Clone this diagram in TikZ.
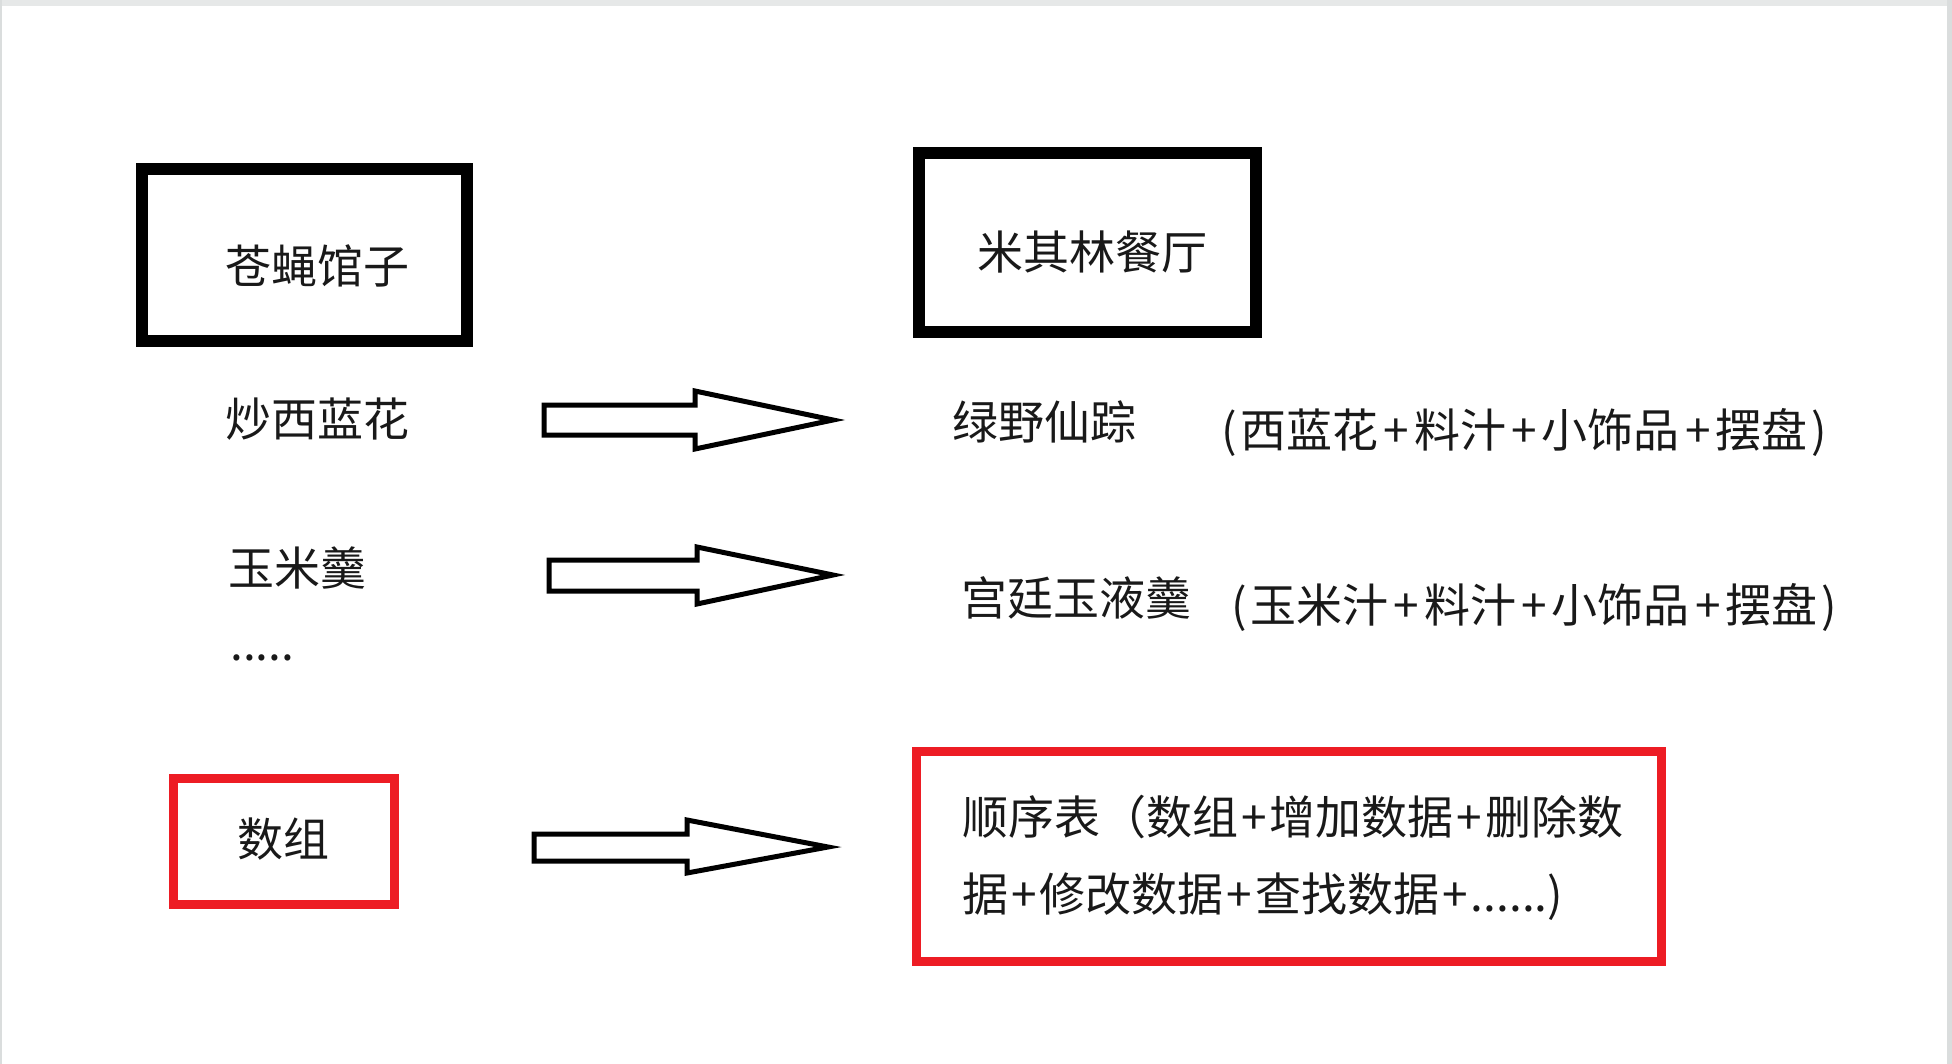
\documentclass[tikz,border=0pt]{standalone}
\usepackage{fontspec}
\newfontfamily\cjk{Noto Sans CJK SC}
\definecolor{pred}{HTML}{ED1C24}
\definecolor{edgegray}{HTML}{DADDDD}
\definecolor{topgray}{HTML}{E6E8E8}
\newcommand{\pl}{\hspace{1.5pt}+\hspace{1.5pt}}
\newcommand{\plw}{\hspace{2.5pt}+\hspace{2.5pt}}
\begin{document}
\begin{tikzpicture}[x=0.5pt,y=-0.5pt,
  txt/.style={font=\cjk\fontsize{23}{28}\selectfont, inner sep=0pt, text=black!90, text height=0.8em, text depth=0.12em},
  blackbox/.style={draw=black, line width=6pt, inner sep=0pt},
  redbox/.style={draw=pred, line width=4.5pt, inner sep=0pt},
  blockarrow/.style={draw=black, line width=2.5pt, fill=white, line join=miter}]
\useasboundingbox (0,0) rectangle (1952,1064);
\fill[white] (0,0) rectangle (1952,1064);
\fill[topgray] (0,0) rectangle (1952,6);
\fill[edgegray] (1947,0) rectangle (1952,1064);
\fill[edgegray] (0,0) rectangle (2,1064);

% boxes
\node[blackbox, minimum width=162.5pt, minimum height=86pt] (b1) at (304.5,255) {};
\node[blackbox, minimum width=168.5pt, minimum height=89.5pt] (b2) at (1087.5,242.5) {};
\node[redbox, minimum width=110.5pt, minimum height=63pt] (r1) at (283.5,841) {};
\node[redbox, minimum width=372.5pt, minimum height=105pt] (r2) at (1289,856.5) {};

% texts
\node[txt] (t1) at (317,277) {苍蝇馆子};
\node[txt] (t2) at (1092,263) {米其林餐厅};
\node[txt] (l1) at (317,430) {炒西蓝花};
\node[txt] (l2) at (297,579) {玉米羹};
\node[txt, anchor=base west] (l3) at (230,660) {.....};
\node[txt] (l4) at (283,850) {数组};
\node[txt, anchor=west] (m1) at (952,433) {绿野仙踪};
\node[txt, anchor=west] (d1) at (1221,441) {(\hspace{2pt}西蓝花\plw 料汁\plw 小饰品\plw 摆盘\hspace{2pt})};
\node[txt, anchor=west] (m2) at (961,609) {宫廷玉液羹};
\node[txt, anchor=west] (d2) at (1231,616) {(\hspace{2pt}玉米汁\plw 料汁\plw 小饰品\plw 摆盘\hspace{2pt})};
\node[txt, anchor=west] (s1) at (962,828) {顺序表（数组\pl 增加数据\pl 删除数};
\node[txt, anchor=west] (s2) at (962,905) {据\pl 修改数据\pl 查找数据\pl ......)};

% block arrows
\draw[blockarrow] (544,405) -- (695,405) -- (695,391) -- (833,420) -- (695,449) -- (695,435) -- (544,435) -- cycle;
\draw[blockarrow] (549,560) -- (697,560) -- (697,547) -- (833,575) -- (697,604) -- (697,591) -- (549,591) -- cycle;
\draw[blockarrow] (534,834) -- (687,834) -- (687,820) -- (828,847) -- (687,873) -- (687,861) -- (534,861) -- cycle;
\end{tikzpicture}
\end{document}
